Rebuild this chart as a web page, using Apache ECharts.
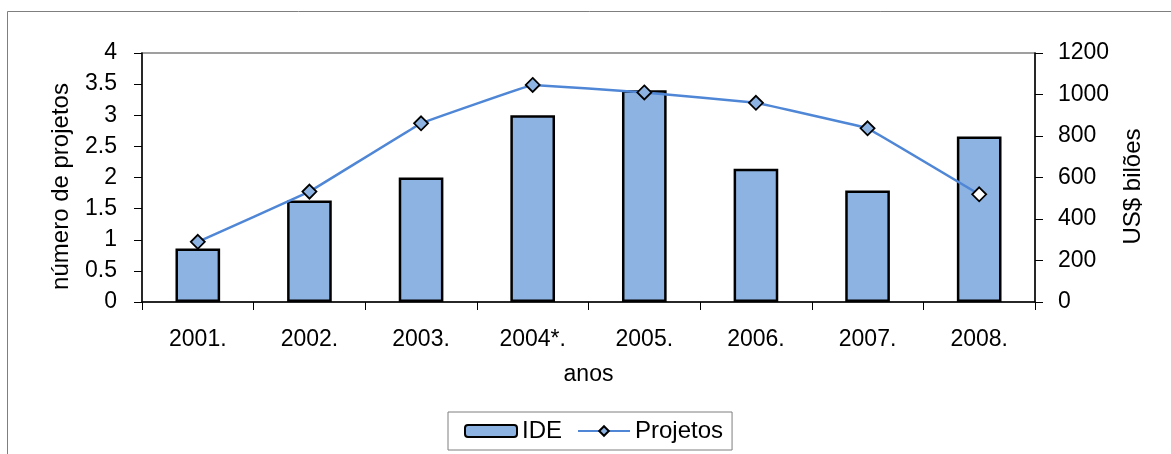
<!DOCTYPE html>
<html>
<head>
<meta charset="utf-8">
<script src="https://cdn.jsdelivr.net/npm/echarts@6/dist/echarts.min.js"></script>
<style>
  html, body { margin: 0; padding: 0; background: #fff; }
  #chart { width: 1171px; height: 454px; }
</style>
</head>
<body>
<div id="chart"></div>
<script>
// anos
const years = ['2001.', '2002.', '2003.', '2004*.', '2005.', '2006.', '2007.', '2008.']
// IDE (eixo esquerdo)
const ideValues = [0.86, 1.63, 2.0, 3.0, 3.4, 2.14, 1.79, 2.66]
// Projetos (eixo direito, US$ bilões)
const projetosValues = [290, 532, 861, 1046, 1010, 960, 837, 519]
const leftTicks = [0, 0.5, 1, 1.5, 2, 2.5, 3, 3.5, 4]
const rightTicks = [0, 200, 400, 600, 800, 1000, 1200]

const font = '"Liberation Sans", Arial, sans-serif'
const blueFill = '#8db3e2'
const lineBlue = '#4f87d6'

const chart = echarts.init(document.getElementById('chart'), null, { renderer: 'canvas' })

const option = {
  animation: false,
  textStyle: { fontFamily: font, color: '#000' },
  graphic: [
    {
      type: 'rect',
      shape: { x: 7.5, y: 11.5, width: 1200, height: 500 },
      style: { fill: 'none', stroke: '#7f7f7f', lineWidth: 1 },
      silent: true
    }
  ],
  grid: {
    left: 142,
    right: 136,
    top: 53,
    bottom: 152,
    show: true,
    borderColor: '#808080',
    borderWidth: 1.5
  },
  legend: {
    left: 448,
    top: 412,
    padding: [7, 9, 7, 16],
    borderColor: '#7f7f7f',
    borderWidth: 1,
    itemWidth: 52,
    itemHeight: 12,
    itemGap: 15,
    textStyle: { fontFamily: font, fontSize: 24, color: '#000' },
    data: ['IDE', 'Projetos']
  },
  xAxis: {
    type: 'category',
    data: years,
    name: 'anos',
    nameLocation: 'middle',
    nameGap: 61,
    nameTextStyle: { fontFamily: font, fontSize: 23, color: '#000' },
    axisLine: { lineStyle: { color: '#000', width: 1.5 } },
    axisTick: { show: true, length: 8, lineStyle: { color: '#000' } },
    axisLabel: { fontFamily: font, fontSize: 23, color: '#000', margin: 26 },
    splitLine: { show: false }
  },
  yAxis: [
    {
      type: 'value',
      min: 0,
      max: 4,
      interval: 0.5,
      position: 'left',
      name: 'número de projetos',
      nameLocation: 'middle',
      nameRotate: 90,
      nameGap: 69,
      nameTextStyle: { fontFamily: font, fontSize: 24, color: '#000', padding: [0, 18, 0, 0] },
      axisLine: { show: true, lineStyle: { color: '#000', width: 1.5 } },
      axisTick: { show: true, length: 8, lineStyle: { color: '#000' } },
      axisLabel: {
        fontFamily: font, fontSize: 23, color: '#000', margin: 25,
        formatter: v => leftTicks.includes(v) ? String(v) : ''
      },
      splitLine: { show: false }
    },
    {
      type: 'value',
      min: 0,
      max: 1200,
      interval: 200,
      position: 'right',
      name: 'US$ bilões',
      nameLocation: 'middle',
      nameRotate: 90,
      nameGap: 86,
      nameTextStyle: { fontFamily: font, fontSize: 24, color: '#000', padding: [0, 18, 0, 0] },
      axisLine: { show: true, lineStyle: { color: '#000', width: 1.5 } },
      axisTick: { show: true, length: 8, lineStyle: { color: '#000' } },
      axisLabel: {
        fontFamily: font, fontSize: 23, color: '#000', margin: 23,
        formatter: v => rightTicks.includes(v) ? String(v) : ''
      },
      splitLine: { show: false }
    }
  ],
  series: [
    {
      name: 'IDE',
      type: 'bar',
      yAxisIndex: 0,
      data: ideValues,
      barWidth: '40%',
      itemStyle: { color: blueFill, borderColor: '#000', borderWidth: 2.5 },
      z: 2
    },
    {
      name: 'Projetos',
      type: 'line',
      yAxisIndex: 1,
      data: projetosValues.map((v, i) => i === projetosValues.length - 1
        ? { value: v, itemStyle: { color: '#fff' } }
        : v),
      smooth: 0.03,
      symbol: 'diamond',
      symbolSize: 14,
      showAllSymbol: true,
      lineStyle: { color: lineBlue, width: 2.5 },
      itemStyle: { color: blueFill, borderColor: '#000', borderWidth: 1.8 },
      z: 3
    }
  ]
}

chart.setOption(option)
window.addEventListener('resize', () => chart.resize())
</script>
</body>
</html>
